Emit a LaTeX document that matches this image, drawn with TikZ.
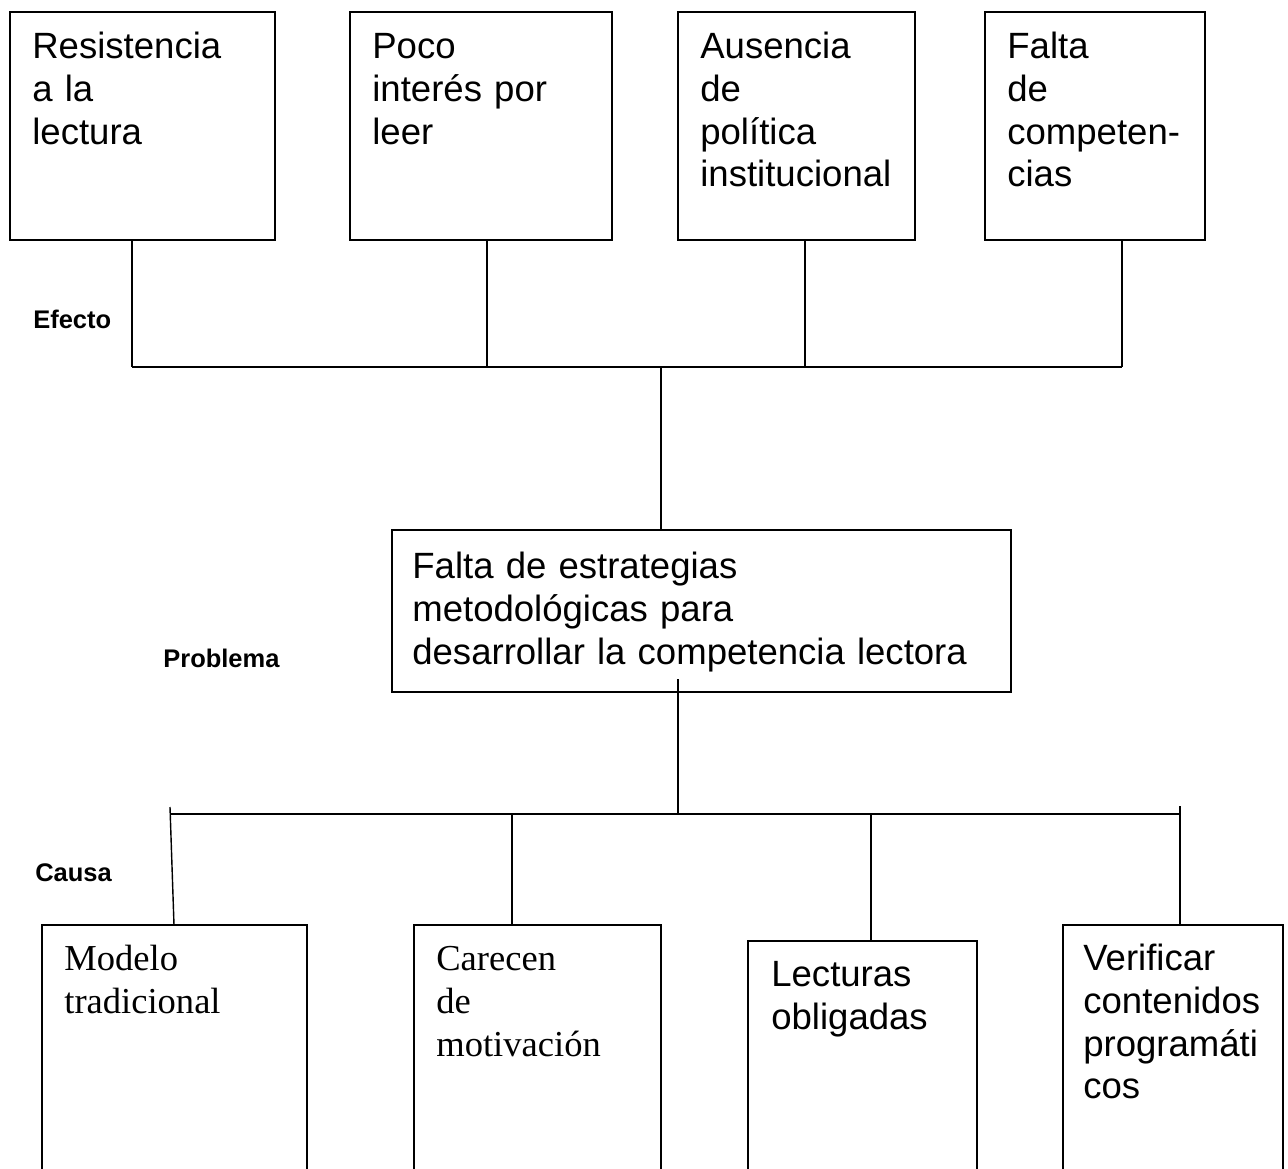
\documentclass[tikz,border=0pt]{standalone}
\usepackage{fontspec}
\setmainfont{Liberation Serif}
\newfontfamily\arial{Liberation Sans}
\begin{document}
\begin{tikzpicture}[x=0.02cm,y=-0.02cm,
  box/.style={draw, line width=0.8pt, inner sep=0pt, outer sep=0pt, anchor=north west},
  txt/.style={inner sep=0pt, anchor=north west, align=left, text width=#1},
  sans/.style={font=\arial\fontsize{20.8}{24.4}\selectfont},
  serif/.style={font=\fontsize{20.8}{24.4}\selectfont},
  lbl/.style={font=\arial\bfseries\fontsize{14.5}{17}\selectfont, inner sep=0pt, anchor=base west},
  conn/.style={line width=0.8pt}]
\clip (0,0) rectangle (1288,1169);
\fill[white] (0,0) rectangle (1288,1169);
% top boxes (effects)
\node[box, minimum width=5.3cm, minimum height=4.56cm] (b1) at (10,12) {};
\node[box, minimum width=5.24cm, minimum height=4.56cm] (b2) at (350,12) {};
\node[box, minimum width=4.74cm, minimum height=4.56cm] (b3) at (678,12) {};
\node[box, minimum width=4.4cm, minimum height=4.56cm] (b4) at (985,12) {};
\node[txt=4.8cm, sans] (b1t) at (32,28) {\strut Resistencia\\a la\\lectura};
\node[txt=4.8cm, sans] (b2t) at (372,28) {\strut Poco\\interés por\\leer};
\node[txt=4.4cm, sans] (b3t) at (700,28) {\strut Ausencia\\de\\política\\institucional};
\node[txt=4.0cm, sans] (b4t) at (1007,28) {\strut Falta\\de\\competen-\\cias};
% problem box
\node[box, minimum width=12.38cm, minimum height=3.24cm] (pr) at (392,530) {};
\node[txt=12cm, sans] (prt) at (412,548) {\strut Falta de estrategias\\metodológicas para\\desarrollar la competencia lectora};
% bottom boxes (causes)
\node[box, minimum width=5.3cm, minimum height=5.2cm] (k1) at (42,925) {};
\node[box, minimum width=4.94cm, minimum height=5.2cm] (k2) at (414,925) {};
\node[box, minimum width=4.58cm, minimum height=5.2cm] (k3) at (748,941) {};
\node[box, minimum width=4.4cm, minimum height=5.2cm] (k4) at (1063,925) {};
\node[txt=4.8cm, serif] (k1t) at (64,940) {\strut Modelo\\tradicional};
\node[txt=4.5cm, serif] (k2t) at (436,940) {\strut Carecen\\de\\motivación};
\node[txt=4.2cm, sans] (k3t) at (771,956) {\strut Lecturas\\obligadas};
\node[txt=4.0cm, sans] (k4t) at (1083,940) {\strut Verificar\\contenidos\\programáti\\cos};
% labels
\node[lbl] (lefecto) at (33,328) {Efecto};
\node[lbl] (lproblema) at (163,667) {Problema};
\node[lbl] (lcausa) at (35,881) {Causa};
% effect connectors
\coordinate (e1) at (132,367);
\coordinate (e2) at (487,367);
\coordinate (e3) at (805,367);
\coordinate (e4) at (1122,367);
\coordinate (e0) at (661,367);
\draw[conn] (b1.south -| e1) -- (e1);
\draw[conn] (b2.south -| e2) -- (e2);
\draw[conn] (b3.south -| e3) -- (e3);
\draw[conn] (b4.south -| e4) -- (e4);
\draw[conn] (e1) -- (e4);
\draw[conn] (e0) -- (pr.north -| e0);
% cause connectors
\coordinate (c0t) at (678,679);
\coordinate (c0) at (678,814);
\coordinate (c1t) at (170,807);
\coordinate (c1) at (170,814);
\coordinate (c2) at (512,814);
\coordinate (c3) at (871,814);
\coordinate (c4) at (1180,814);
\coordinate (c4t) at (1180,806);
\draw[conn] (c0t) -- (c0);
\draw[conn] (c1) -- (c4);
\draw[conn] (c1t) -- (174,0 |- k1.north);
\draw[conn] (c2) -- (k2.north -| c2);
\draw[conn] (c3) -- (k3.north -| c3);
\draw[conn] (c4t) -- (k4.north -| c4);
\end{tikzpicture}
\end{document}
